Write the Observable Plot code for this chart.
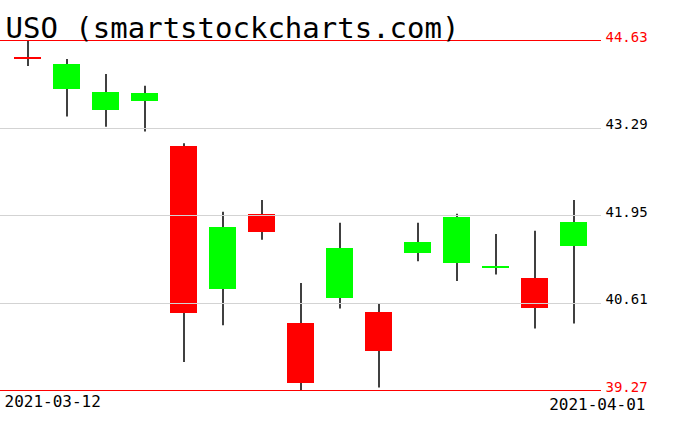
<!DOCTYPE html>
<html><head><meta charset="utf-8">
<script src="https://cdn.jsdelivr.net/npm/d3@7"></script>
<script src="https://cdn.jsdelivr.net/npm/@observablehq/plot@0.6"></script>
<style>body{margin:0;background:#fff}</style>
</head><body><div id="chart"></div>
<script>
const dates  = ["2021-03-12","2021-03-15","2021-03-16","2021-03-17","2021-03-18","2021-03-19","2021-03-22","2021-03-23","2021-03-24","2021-03-25","2021-03-26","2021-03-29","2021-03-30","2021-03-31","2021-04-01"];
const opens  = [44.365, 43.88, 43.56, 43.69, 43.00, 40.82, 41.97, 40.30, 40.68, 40.47, 41.37, 41.22, 41.145, 40.99, 41.47];
const highs  = [44.62, 44.34, 44.11, 43.93, 43.05, 42.00, 42.18, 40.91, 41.83, 40.60, 41.83, 41.97, 41.66, 41.71, 42.18];
const lows   = [44.23, 43.46, 43.30, 43.23, 39.70, 40.26, 41.57, 39.27, 40.52, 39.31, 41.24, 40.94, 41.04, 40.21, 40.29];
const closes = [44.34, 44.27, 43.83, 43.82, 40.45, 41.77, 41.69, 39.37, 41.45, 39.87, 41.54, 41.92, 41.17, 40.52, 41.84];
const tickValues = [44.63, 43.29, 41.95, 40.61, 39.27];
const title = "USO (smartstockcharts.com)";
const firstDateLabel = "2021-03-12";
const lastDateLabel = "2021-04-01";

const data = dates.map((d, i) => ({date: d, open: opens[i], high: highs[i], low: lows[i], close: closes[i]}));
const yMin = d3.min(tickValues), yMax = d3.max(tickValues);
const mono = "DejaVu Sans Mono";

const chart = Plot.plot({
  width: 676,
  height: 431,
  marginLeft: 0,
  marginRight: 75,
  marginTop: 40,
  marginBottom: 41,
  style: {background: "#fff", overflow: "visible"},
  x: {type: "band", domain: dates, paddingInner: 0.31, paddingOuter: 0.155, insetLeft: 7, insetRight: 7, axis: null},
  y: {domain: [yMin, yMax], axis: null},
  color: {type: "identity"},
  marks: [
    Plot.ruleX(data, {x: "date", y1: "low", y2: "high", stroke: "black", strokeWidth: 1.5}),
    Plot.barY(data, {x: "date", y1: "open", y2: "close", fill: d => d.close >= d.open ? "#00ff00" : "#ff0000", shapeRendering: "crispEdges"}),
    Plot.ruleY(tickValues, {y: d => d, stroke: d => (d === yMin || d === yMax) ? "#ff0000" : "#d3d3d3", strokeWidth: 1, shapeRendering: "crispEdges"}),
    Plot.text(tickValues, {y: d => d, text: d => d.toFixed(2), frameAnchor: "right", textAnchor: "start", lineAnchor: "bottom", dx: 4, dy: 1, fontSize: 14, fontFamily: mono, fill: d => (d === yMin || d === yMax) ? "#ff0000" : "#000"}),
    Plot.text([title], {text: d => d, frameAnchor: "top-left", textAnchor: "start", lineAnchor: "bottom", dx: 5, dy: -3, fontSize: 29, fontFamily: mono, fill: "#000"}),
    Plot.text([firstDateLabel], {text: d => d, frameAnchor: "bottom-left", textAnchor: "start", lineAnchor: "bottom", dx: 4, dy: 16, fontSize: 16, fontFamily: mono, fill: "#000"}),
    Plot.text([lastDateLabel], {text: d => d, frameAnchor: "bottom-right", textAnchor: "end", lineAnchor: "bottom", dx: 44, dy: 19, fontSize: 16, fontFamily: mono, fill: "#000"})
  ]
});
document.getElementById("chart").appendChild(chart);
</script>
</body></html>
